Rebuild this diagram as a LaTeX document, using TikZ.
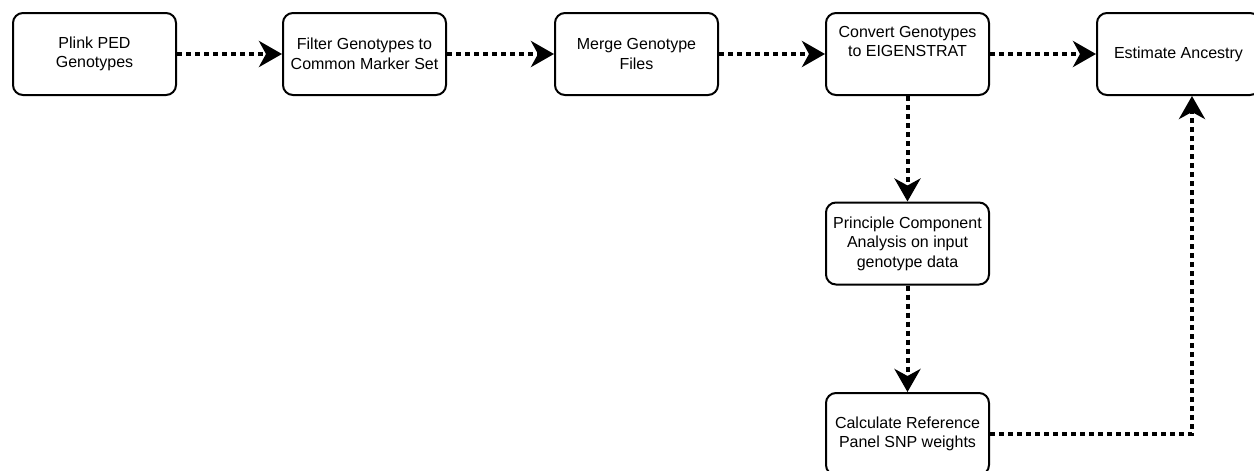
\documentclass[tikz,border=0pt]{standalone}
\usepackage{fontspec}
\setmainfont{Liberation Sans}
\usetikzlibrary{arrows.meta}
\begin{document}
\begin{tikzpicture}[x=1pt,y=-1pt,
  box/.style={draw, line width=2pt, rounded corners=10pt, minimum width=163pt,
    minimum height=82pt, align=center, inner sep=0pt,
    font=\fontsize{16}{19.5}\selectfont},
  flow/.style={line width=4pt, dash pattern=on 5pt off 4pt,
    -{Stealth[length=23pt,width=26pt,inset=7pt]}}]
\useasboundingbox (0,0) rectangle (1254,471);
\node[box] (plink) at (94.5,54) {Plink PED\\Genotypes};
\node[box] (filter) at (364.5,54) {Filter Genotypes to\\Common Marker Set};
\node[box] (merge) at (636.5,54) {Merge Genotype\\Files};
\node[box] (convert) at (907.5,54) {Convert Genotypes\\to EIGENSTRAT\\\strut};
\node[box] (est) at (1178.5,54) {Estimate Ancestry};
\node[box] (pca) at (907.5,243.5) {Principle Component\\Analysis on input\\genotype data};
\node[box] (calc) at (907.5,434) {Calculate Reference\\Panel SNP weights};
\draw[flow] (plink.east) -- (filter.west);
\draw[flow] (filter.east) -- (merge.west);
\draw[flow] (merge.east) -- (convert.west);
\draw[flow] (convert.east) -- (est.west);
\draw[flow] (convert.south) -- (pca.north);
\draw[flow] (pca.south) -- (calc.north);
\draw[flow] (calc.east) -| ([xshift=13.5pt]est.south);
\end{tikzpicture}
\end{document}
